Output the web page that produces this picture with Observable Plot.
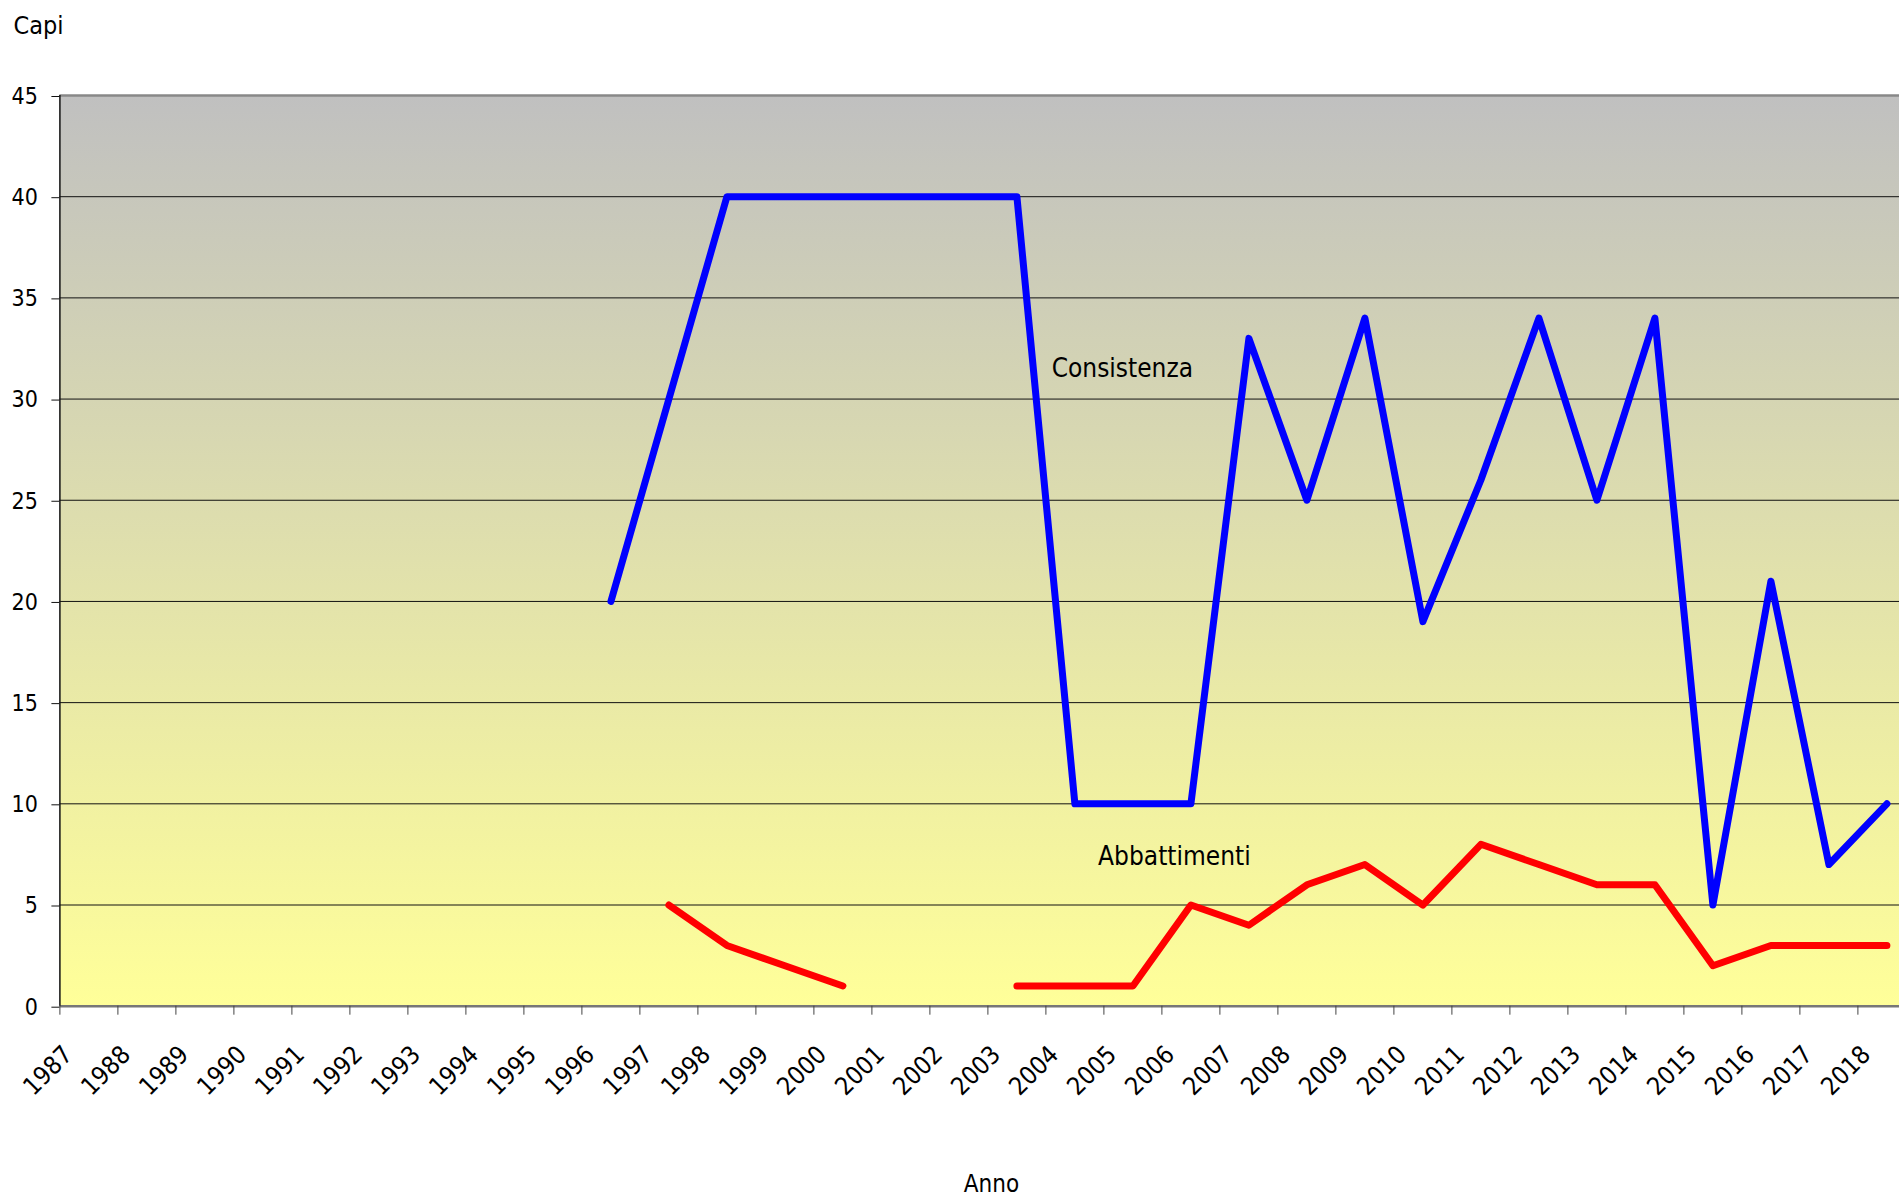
<!DOCTYPE html>
<html>
<head>
<meta charset="utf-8">
<script src="https://cdn.jsdelivr.net/npm/d3@7"></script>
<script src="https://cdn.jsdelivr.net/npm/@observablehq/plot@0.6"></script>
<style>
  html, body { margin: 0; padding: 0; background: #ffffff; }
  svg { display: block; }
</style>
</head>
<body>
<script>
// ---- data ----
const years = [1987,1988,1989,1990,1991,1992,1993,1994,1995,1996,1997,1998,1999,2000,2001,2002,2003,2004,2005,2006,2007,2008,2009,2010,2011,2012,2013,2014,2015,2016,2017,2018];
const consistenza = [null,null,null,null,null,null,null,null,null,20,30,40,40,40,40,40,40,10,10,10,33,25,34,19,26,34,25,34,5,21,7,10];
const abbattimenti = [null,null,null,null,null,null,null,null,null,null,5,3,2,1,null,null,1,1,1,5,4,6,7,5,8,7,6,6,2,3,3,3];
const yTicks = [0,5,10,15,20,25,30,35,40,45];
const gridValues = [5,10,15,20,25,30,35,40];
const seriesLabels = [
  {text: "Consistenza", x: 2004.1, y: 31.1},
  {text: "Abbattimenti", x: 2004.9, y: 7.0}
];
const yTitle = "Capi";
const xTitle = "Anno";

const rows = years.map((anno, i) => ({anno, consistenza: consistenza[i], abbattimenti: abbattimenti[i]}));

// gradient background definition
function gradientDefs() {
  const ns = "http://www.w3.org/2000/svg";
  const defs = document.createElementNS(ns, "defs");
  const g = document.createElementNS(ns, "linearGradient");
  g.setAttribute("id", "bgGrad");
  g.setAttribute("x1", "0"); g.setAttribute("y1", "0");
  g.setAttribute("x2", "0"); g.setAttribute("y2", "1");
  [["0%", "#c0c0c0"], ["100%", "#ffff99"]].forEach(([o, c]) => {
    const s = document.createElementNS(ns, "stop");
    s.setAttribute("offset", o);
    s.setAttribute("stop-color", c);
    g.appendChild(s);
  });
  defs.appendChild(g);
  return defs;
}

const FONT = "'DejaVu Sans Condensed', 'DejaVu Sans', sans-serif";

const chart = Plot.plot({
  width: 1899,
  height: 1198,
  marginLeft: 59.4,
  marginRight: -16.4,
  marginTop: 95,
  marginBottom: 192.3,
  style: {fontFamily: FONT, fontStretch: "condensed", fontSize: "22px", background: "#ffffff", color: "#000"},
  x: {domain: [1987, 2019], axis: null},
  y: {domain: [0, 45], axis: null},
  marks: [
    gradientDefs,
    Plot.frame({fill: "url(#bgGrad)", stroke: null}),
    Plot.ruleY(gridValues, {stroke: "#111", strokeWidth: 1}),
    Plot.ruleY([45], {stroke: "#888", strokeWidth: 2.5}),
    Plot.ruleY([0], {stroke: "#777", strokeWidth: 2.5}),
    Plot.ruleX([1987], {stroke: "#111", strokeWidth: 1.5}),
    Plot.axisY({ticks: yTicks, tickSize: 8, tickPadding: 14, tickFormat: d => String(d), label: null, fontSize: 23, stroke: "#111", dy: 1}),
    Plot.axisX({ticks: years, tickSize: 9, tickFormat: () => "", label: null, stroke: "#444"}),
    Plot.text(years, {x: d => d, y: 0, text: d => String(d), rotate: -45, textAnchor: "end", lineAnchor: "bottom", dx: 14, dy: 50, fontSize: 25, fill: "#000"}),
    Plot.line(rows, {x: d => d.anno + 0.5, y: "consistenza", stroke: "#0000ff", strokeWidth: 7, strokeLinecap: "round", strokeLinejoin: "round"}),
    Plot.line(rows, {x: d => d.anno + 0.5, y: "abbattimenti", stroke: "#ff0000", strokeWidth: 7, strokeLinecap: "round", strokeLinejoin: "round"}),
    Plot.text(seriesLabels, {x: "x", y: "y", text: "text", textAnchor: "start", lineAnchor: "bottom", fontSize: 26, fill: "#000"}),
    Plot.text([yTitle], {frameAnchor: "top-left", dx: -46.4, dy: -62, textAnchor: "start", lineAnchor: "bottom", fontSize: 25, fill: "#000"}),
    Plot.text([xTitle], {frameAnchor: "bottom", dx: 3.6, dy: 185.5, textAnchor: "middle", lineAnchor: "bottom", fontSize: 24, fill: "#000"})
  ]
});
document.body.appendChild(chart);
</script>
</body>
</html>
